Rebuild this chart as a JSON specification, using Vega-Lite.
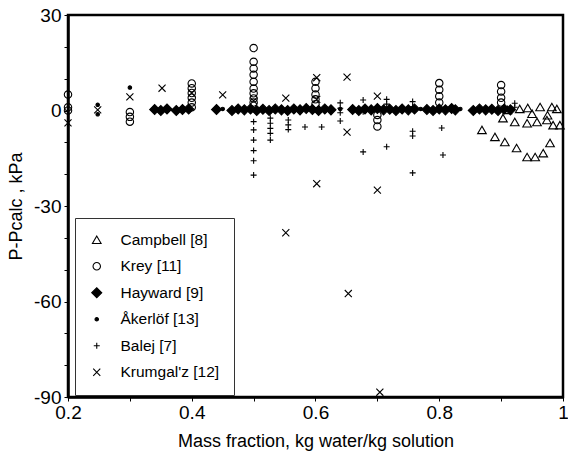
{
  "$schema": "https://vega.github.io/schema/vega-lite/v6.json",
  "autosize": {"type": "none"},
  "width": 495,
  "height": 382,
  "padding": {"left": 68, "top": 15, "right": 5, "bottom": 64},
  "background": "white",
  "config": {
    "view": {"stroke": "black", "strokeWidth": 2.5},
    "font": "Liberation Sans",
    "axis": {
      "domainColor": "black", "domainWidth": 2.5, "grid": false,
      "tickColor": "black", "tickWidth": 1, "tickSize": 4,
      "labelColor": "black", "labelFont": "Liberation Sans", "labelFontSize": 19, "labelFlush": false,
      "titleColor": "black", "titleFont": "Liberation Sans", "titleFontSize": 18, "titleFontWeight": "normal"
    },
    "legend": {
      "orient": "none", "legendX": 7, "legendY": 203,
      "strokeColor": "#333", "strokeWidth": 1, "fillColor": "white",
      "padding": 14, "labelFont": "Liberation Sans", "labelFontSize": 15.5, "labelColor": "black",
      "rowPadding": 9.5, "labelOffset": 16, "symbolStrokeWidth": 1.1
    }
  },
  "data": {
    "values": [
      {"source": "Campbell [8]", "x": 0.869, "y": -6.1},
      {"source": "Campbell [8]", "x": 0.89, "y": -8.3},
      {"source": "Campbell [8]", "x": 0.906, "y": -9.9},
      {"source": "Campbell [8]", "x": 0.925, "y": -11.8},
      {"source": "Campbell [8]", "x": 0.942, "y": -14.6},
      {"source": "Campbell [8]", "x": 0.955, "y": -14.6},
      {"source": "Campbell [8]", "x": 0.968, "y": -13.4},
      {"source": "Campbell [8]", "x": 0.979, "y": -10.2},
      {"source": "Campbell [8]", "x": 0.903, "y": -2.4},
      {"source": "Campbell [8]", "x": 0.922, "y": -3.6},
      {"source": "Campbell [8]", "x": 0.942, "y": -4},
      {"source": "Campbell [8]", "x": 0.958, "y": -3.6},
      {"source": "Campbell [8]", "x": 0.974, "y": -3},
      {"source": "Campbell [8]", "x": 0.984, "y": -4.6},
      {"source": "Campbell [8]", "x": 0.995, "y": -4.6},
      {"source": "Campbell [8]", "x": 0.91, "y": 0.2},
      {"source": "Campbell [8]", "x": 0.93, "y": 0.5},
      {"source": "Campbell [8]", "x": 0.943, "y": 0.8},
      {"source": "Campbell [8]", "x": 0.963, "y": 1.1},
      {"source": "Campbell [8]", "x": 0.982, "y": 1.1},
      {"source": "Campbell [8]", "x": 0.95, "y": -1},
      {"source": "Campbell [8]", "x": 0.975, "y": -1.5},
      {"source": "Campbell [8]", "x": 0.99, "y": 0.5},
      {"source": "Krey [11]", "x": 0.2, "y": 5},
      {"source": "Krey [11]", "x": 0.2, "y": 1},
      {"source": "Krey [11]", "x": 0.2, "y": 0},
      {"source": "Krey [11]", "x": 0.3, "y": -0.5},
      {"source": "Krey [11]", "x": 0.3, "y": -2},
      {"source": "Krey [11]", "x": 0.3, "y": -3.5},
      {"source": "Krey [11]", "x": 0.4, "y": 8.5},
      {"source": "Krey [11]", "x": 0.4, "y": 7},
      {"source": "Krey [11]", "x": 0.4, "y": 5.5},
      {"source": "Krey [11]", "x": 0.4, "y": 4},
      {"source": "Krey [11]", "x": 0.4, "y": 2.5},
      {"source": "Krey [11]", "x": 0.4, "y": 1},
      {"source": "Krey [11]", "x": 0.5, "y": 19.6},
      {"source": "Krey [11]", "x": 0.5, "y": 15.3},
      {"source": "Krey [11]", "x": 0.5, "y": 13.2},
      {"source": "Krey [11]", "x": 0.5, "y": 11.2},
      {"source": "Krey [11]", "x": 0.5, "y": 9},
      {"source": "Krey [11]", "x": 0.5, "y": 6.9},
      {"source": "Krey [11]", "x": 0.5, "y": 5.4},
      {"source": "Krey [11]", "x": 0.5, "y": 3.8},
      {"source": "Krey [11]", "x": 0.5, "y": 2.5},
      {"source": "Krey [11]", "x": 0.6, "y": 9},
      {"source": "Krey [11]", "x": 0.6, "y": 7},
      {"source": "Krey [11]", "x": 0.6, "y": 5},
      {"source": "Krey [11]", "x": 0.6, "y": 3.5},
      {"source": "Krey [11]", "x": 0.6, "y": 2},
      {"source": "Krey [11]", "x": 0.7, "y": -1.4},
      {"source": "Krey [11]", "x": 0.7, "y": -3},
      {"source": "Krey [11]", "x": 0.7, "y": -5},
      {"source": "Krey [11]", "x": 0.8, "y": 8.6},
      {"source": "Krey [11]", "x": 0.8, "y": 6.5},
      {"source": "Krey [11]", "x": 0.8, "y": 4.5},
      {"source": "Krey [11]", "x": 0.8, "y": 2.5},
      {"source": "Krey [11]", "x": 0.9, "y": 8},
      {"source": "Krey [11]", "x": 0.9, "y": 6},
      {"source": "Krey [11]", "x": 0.9, "y": 4},
      {"source": "Krey [11]", "x": 0.9, "y": 2.5},
      {"source": "Hayward [9]", "x": 0.34, "y": 0.3},
      {"source": "Hayward [9]", "x": 0.35, "y": 0},
      {"source": "Hayward [9]", "x": 0.36, "y": 0.5},
      {"source": "Hayward [9]", "x": 0.375, "y": 0},
      {"source": "Hayward [9]", "x": 0.385, "y": 0.3},
      {"source": "Hayward [9]", "x": 0.395, "y": 0.5},
      {"source": "Hayward [9]", "x": 0.44, "y": 0.3},
      {"source": "Hayward [9]", "x": 0.465, "y": 0},
      {"source": "Hayward [9]", "x": 0.475, "y": 0.5},
      {"source": "Hayward [9]", "x": 0.485, "y": 0.2},
      {"source": "Hayward [9]", "x": 0.495, "y": 0.5},
      {"source": "Hayward [9]", "x": 0.505, "y": 0},
      {"source": "Hayward [9]", "x": 0.515, "y": 0.4},
      {"source": "Hayward [9]", "x": 0.525, "y": 0},
      {"source": "Hayward [9]", "x": 0.535, "y": 0.5},
      {"source": "Hayward [9]", "x": 0.545, "y": 0.2},
      {"source": "Hayward [9]", "x": 0.555, "y": 0},
      {"source": "Hayward [9]", "x": 0.565, "y": 0.5},
      {"source": "Hayward [9]", "x": 0.575, "y": 0.2},
      {"source": "Hayward [9]", "x": 0.585, "y": 0.6},
      {"source": "Hayward [9]", "x": 0.595, "y": 0.3},
      {"source": "Hayward [9]", "x": 0.605, "y": 0},
      {"source": "Hayward [9]", "x": 0.615, "y": 0.5},
      {"source": "Hayward [9]", "x": 0.625, "y": 0.2},
      {"source": "Hayward [9]", "x": 0.66, "y": 0.3},
      {"source": "Hayward [9]", "x": 0.67, "y": 0},
      {"source": "Hayward [9]", "x": 0.68, "y": 0.5},
      {"source": "Hayward [9]", "x": 0.69, "y": 0.2},
      {"source": "Hayward [9]", "x": 0.70, "y": 0.6},
      {"source": "Hayward [9]", "x": 0.71, "y": 0.2},
      {"source": "Hayward [9]", "x": 0.72, "y": 0.4},
      {"source": "Hayward [9]", "x": 0.73, "y": 0},
      {"source": "Hayward [9]", "x": 0.74, "y": 0.5},
      {"source": "Hayward [9]", "x": 0.75, "y": 0.2},
      {"source": "Hayward [9]", "x": 0.76, "y": 0.5},
      {"source": "Hayward [9]", "x": 0.78, "y": 0.3},
      {"source": "Hayward [9]", "x": 0.79, "y": 0},
      {"source": "Hayward [9]", "x": 0.80, "y": 0.5},
      {"source": "Hayward [9]", "x": 0.81, "y": 0.2},
      {"source": "Hayward [9]", "x": 0.82, "y": 0.6},
      {"source": "Hayward [9]", "x": 0.826, "y": 0.2},
      {"source": "Hayward [9]", "x": 0.855, "y": 0},
      {"source": "Hayward [9]", "x": 0.865, "y": 0.5},
      {"source": "Hayward [9]", "x": 0.875, "y": 0.2},
      {"source": "Hayward [9]", "x": 0.885, "y": 0.4},
      {"source": "Hayward [9]", "x": 0.895, "y": 0},
      {"source": "Hayward [9]", "x": 0.905, "y": 0.5},
      {"source": "Hayward [9]", "x": 0.915, "y": 0.2},
      {"source": "Åkerlöf [13]", "x": 0.248, "y": 1.8},
      {"source": "Åkerlöf [13]", "x": 0.248, "y": -1.2},
      {"source": "Åkerlöf [13]", "x": 0.3, "y": 7.2},
      {"source": "Åkerlöf [13]", "x": 0.45, "y": 0.5},
      {"source": "Åkerlöf [13]", "x": 0.64, "y": 0.5},
      {"source": "Åkerlöf [13]", "x": 0.77, "y": 0.5},
      {"source": "Åkerlöf [13]", "x": 0.834, "y": 0.5},
      {"source": "Balej [7]", "x": 0.5, "y": -3.5},
      {"source": "Balej [7]", "x": 0.5, "y": -6.1},
      {"source": "Balej [7]", "x": 0.5, "y": -9.3},
      {"source": "Balej [7]", "x": 0.5, "y": -12.6},
      {"source": "Balej [7]", "x": 0.5, "y": -15.8},
      {"source": "Balej [7]", "x": 0.5, "y": -20.3},
      {"source": "Balej [7]", "x": 0.527, "y": -2.4},
      {"source": "Balej [7]", "x": 0.527, "y": -4},
      {"source": "Balej [7]", "x": 0.527, "y": -5.6},
      {"source": "Balej [7]", "x": 0.527, "y": -7.2},
      {"source": "Balej [7]", "x": 0.527, "y": -9.3},
      {"source": "Balej [7]", "x": 0.556, "y": -3},
      {"source": "Balej [7]", "x": 0.556, "y": -4.5},
      {"source": "Balej [7]", "x": 0.556, "y": -6},
      {"source": "Balej [7]", "x": 0.583, "y": -5.2},
      {"source": "Balej [7]", "x": 0.61, "y": -5.2},
      {"source": "Balej [7]", "x": 0.64, "y": 2.4},
      {"source": "Balej [7]", "x": 0.64, "y": 0.7},
      {"source": "Balej [7]", "x": 0.64, "y": -0.7},
      {"source": "Balej [7]", "x": 0.64, "y": -3.3},
      {"source": "Balej [7]", "x": 0.677, "y": 3.3},
      {"source": "Balej [7]", "x": 0.677, "y": -0.4},
      {"source": "Balej [7]", "x": 0.677, "y": -13},
      {"source": "Balej [7]", "x": 0.715, "y": 3.5},
      {"source": "Balej [7]", "x": 0.715, "y": 2},
      {"source": "Balej [7]", "x": 0.715, "y": -11.4},
      {"source": "Balej [7]", "x": 0.757, "y": 2.8},
      {"source": "Balej [7]", "x": 0.757, "y": 1.2},
      {"source": "Balej [7]", "x": 0.757, "y": -6.5},
      {"source": "Balej [7]", "x": 0.757, "y": -8},
      {"source": "Balej [7]", "x": 0.757, "y": -19.6},
      {"source": "Balej [7]", "x": 0.804, "y": -5.5},
      {"source": "Balej [7]", "x": 0.806, "y": -14},
      {"source": "Balej [7]", "x": 0.922, "y": 2.3},
      {"source": "Balej [7]", "x": 0.922, "y": 1},
      {"source": "Krumgal'z [12]", "x": 0.2, "y": -3.9},
      {"source": "Krumgal'z [12]", "x": 0.248, "y": 0.2},
      {"source": "Krumgal'z [12]", "x": 0.3, "y": 4.3},
      {"source": "Krumgal'z [12]", "x": 0.352, "y": 7},
      {"source": "Krumgal'z [12]", "x": 0.4, "y": 5.5},
      {"source": "Krumgal'z [12]", "x": 0.45, "y": 4.9},
      {"source": "Krumgal'z [12]", "x": 0.5, "y": 3},
      {"source": "Krumgal'z [12]", "x": 0.552, "y": 3.9},
      {"source": "Krumgal'z [12]", "x": 0.602, "y": 10.3},
      {"source": "Krumgal'z [12]", "x": 0.602, "y": 3.5},
      {"source": "Krumgal'z [12]", "x": 0.651, "y": 10.5},
      {"source": "Krumgal'z [12]", "x": 0.651, "y": -6.8},
      {"source": "Krumgal'z [12]", "x": 0.7, "y": 4.5},
      {"source": "Krumgal'z [12]", "x": 0.552, "y": -38.4},
      {"source": "Krumgal'z [12]", "x": 0.602, "y": -23},
      {"source": "Krumgal'z [12]", "x": 0.653, "y": -57.5},
      {"source": "Krumgal'z [12]", "x": 0.7, "y": -25},
      {"source": "Krumgal'z [12]", "x": 0.704, "y": -88.5}
    ]
  },
  "mark": {"type": "point", "strokeWidth": 1.1, "opacity": 1},
  "encoding": {
    "x": {
      "field": "x", "type": "quantitative",
      "scale": {"domain": [0.2, 1], "nice": false, "zero": false},
      "axis": {
        "title": "Mass fraction, kg water/kg solution",
        "values": [0.2, 0.3, 0.4, 0.5, 0.6, 0.7, 0.8, 0.9, 1],
        "labelExpr": "round(datum.value * 10) % 2 == 0 ? format(datum.value, '~g') : ''",
        "labelPadding": 2, "titlePadding": 10
      }
    },
    "y": {
      "field": "y", "type": "quantitative",
      "scale": {"domain": [-90, 30], "nice": false, "zero": false},
      "axis": {
        "title": "P-Pcalc , kPa",
        "values": [-90, -80, -70, -60, -50, -40, -30, -20, -10, 0, 10, 20, 30],
        "labelExpr": "datum.value % 30 == 0 ? replace(format(datum.value, 'd'), '−', '-') : ''",
        "labelPadding": 3, "titlePadding": 8
      }
    },
    "shape": {
      "field": "source", "type": "nominal",
      "scale": {
        "domain": ["Campbell [8]", "Krey [11]", "Hayward [9]", "Åkerlöf [13]", "Balej [7]", "Krumgal'z [12]"],
        "range": ["triangle-up", "circle", "diamond", "circle", "M-1,0L1,0M0,-1L0,1", "M-1,-1L1,1M-1,1L1,-1"]
      },
      "legend": {"title": null}
    },
    "fill": {
      "field": "source", "type": "nominal",
      "scale": {
        "domain": ["Campbell [8]", "Krey [11]", "Hayward [9]", "Åkerlöf [13]", "Balej [7]", "Krumgal'z [12]"],
        "range": ["transparent", "transparent", "black", "black", "transparent", "transparent"]
      },
      "legend": {"title": null}
    },
    "stroke": {
      "field": "source", "type": "nominal",
      "scale": {
        "domain": ["Campbell [8]", "Krey [11]", "Hayward [9]", "Åkerlöf [13]", "Balej [7]", "Krumgal'z [12]"],
        "range": ["black", "black", "black", "black", "black", "black"]
      },
      "legend": {"title": null}
    },
    "size": {
      "field": "source", "type": "nominal",
      "scale": {
        "type": "ordinal",
        "domain": ["Campbell [8]", "Krey [11]", "Hayward [9]", "Åkerlöf [13]", "Balej [7]", "Krumgal'z [12]"],
        "range": [75, 55, 100, 12, 36, 50]
      },
      "legend": {"title": null}
    }
  }
}
